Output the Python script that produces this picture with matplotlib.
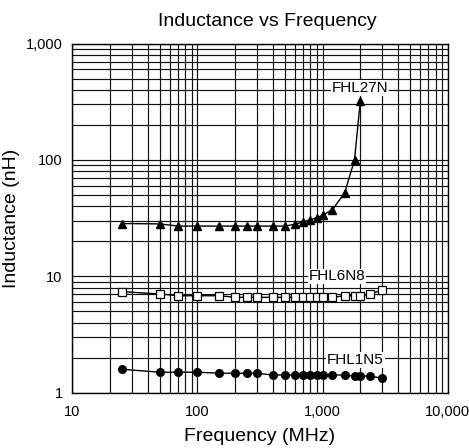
import numpy as np
import matplotlib.pyplot as plt
from matplotlib.ticker import FixedLocator, NullFormatter

plt.rcParams['font.family'] = ['Liberation Sans', 'DejaVu Sans']

# frequency points (MHz)
freq = [25, 50, 70, 100, 150, 200, 250, 300, 400, 500, 600, 700, 800,
        900, 1000, 1200, 1500, 1800, 2000, 2400, 3000]

# FHL27N (triangles) - measured up to 2000 MHz
freq_27n = freq[:19]
ind_27n = [28.4, 28.2, 27.0, 27.0, 27.0, 27.0, 27.0, 27.0, 27.0, 27.0,
           28.0, 29.3, 30.7, 31.9, 33.4, 37.4, 52.0, 100.0, 318.0]

# FHL6N8 (open squares)
ind_6n8 = [7.38, 7.05, 6.81, 6.81, 6.81, 6.60, 6.60, 6.60, 6.60, 6.60,
           6.60, 6.60, 6.60, 6.60, 6.60, 6.60, 6.81, 6.81, 6.81, 7.05, 7.63]

# FHL1N5 (filled circles)
ind_1n5 = [1.59, 1.50, 1.50, 1.50, 1.47, 1.47, 1.47, 1.47, 1.42, 1.42,
           1.42, 1.42, 1.42, 1.42, 1.42, 1.42, 1.42, 1.39, 1.39, 1.39, 1.33]

labels = ["FHL27N", "FHL6N8", "FHL1N5"]
label_pos = [(1990, 415), (1310, 10.0), (1830, 1.91)]

x_ticks = [10, 100, 1000, 10000]
x_ticklabels = ["10", "100", "1,000", "10,000"]
y_ticks = [1, 10, 100, 1000]
y_ticklabels = ["1", "10", "100", "1,000"]

fig = plt.figure(figsize=(4.69, 4.48), dpi=100)
ax = fig.add_axes([0.1542, 0.1234, 0.8004, 0.7795])

ax.set_xscale("log")
ax.set_yscale("log")
ax.set_xlim(10, 10000)
ax.set_ylim(1, 1000)

# grid: every 1..9 of each decade
minor = [m * 10 ** d for d in range(0, 4) for m in range(2, 10)]
ax.xaxis.set_minor_locator(FixedLocator(minor))
ax.yaxis.set_minor_locator(FixedLocator(minor))
ax.xaxis.set_minor_formatter(NullFormatter())
ax.yaxis.set_minor_formatter(NullFormatter())
ax.grid(which="both", color="#111111", linewidth=0.85)
ax.set_axisbelow(True)

ax.set_xticks(x_ticks)
ax.set_xticklabels(x_ticklabels)
ax.set_yticks(y_ticks)
ax.set_yticklabels(y_ticklabels)
ax.tick_params(which="both", length=0, labelsize=10.5)
ax.tick_params(axis="x", pad=9)
ax.tick_params(axis="y", pad=7)

for s in ax.spines.values():
    s.set_linewidth(1.0)

ax.plot(freq_27n, ind_27n, color="black", lw=1.0, marker="^",
        markersize=5.5, zorder=3)
ax.plot(freq, ind_6n8, color="black", lw=1.0, marker="s",
        markersize=5.2, markerfacecolor="white", markeredgewidth=0.9, zorder=3)
ax.plot(freq, ind_1n5, color="black", lw=1.0, marker="o",
        markersize=5.5, zorder=3)

for txt, (xx, yy) in zip(labels, label_pos):
    ax.text(xx, yy, txt, ha="center", va="center", fontsize=11,
            bbox=dict(facecolor="white", edgecolor="none", pad=0.5),
            zorder=4)

ax.set_xlabel("Frequency (MHz)", fontsize=14, labelpad=6)
ax.set_ylabel("Inductance (nH)", fontsize=14)
ax.yaxis.set_label_coords(-0.139, 0.5)
fig.text(0.571, 0.951, "Inductance vs Frequency", ha="center", va="center",
         fontsize=14)

fig.savefig("out.png", dpi=100)
